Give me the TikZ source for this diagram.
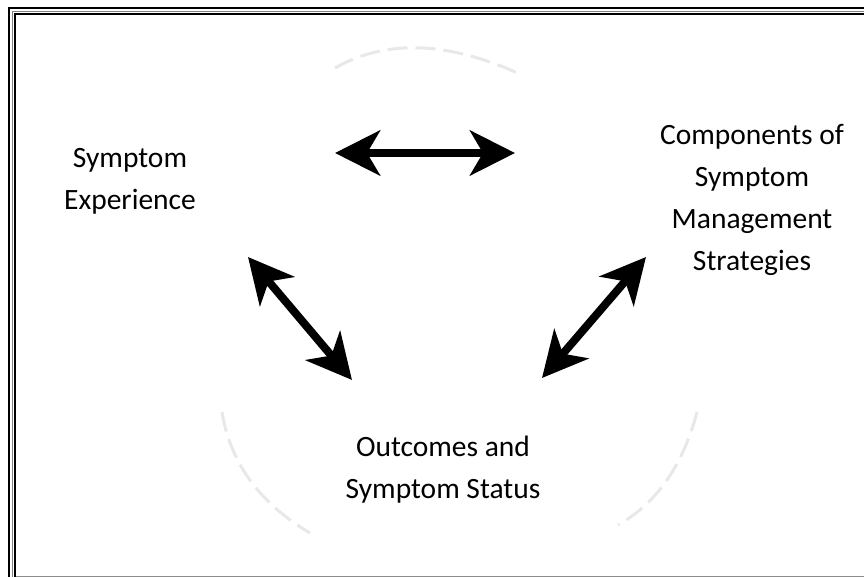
\documentclass[tikz,border=0pt]{standalone}
\usepackage{fontspec}
\setmainfont{Carlito}
\usepackage{tikz}
\usetikzlibrary{positioning, arrows.meta}

\begin{document}
\begin{tikzpicture}[
    x=1pt, y=-1pt,
    phase/.style={align=center, inner sep=0pt, font=\fontsize{29.5}{42}\selectfont},
    link/.style={line width=8pt, {Stealth[length=45pt, width=45pt, inset=13pt]}-{Stealth[length=45pt, width=45pt, inset=13pt]}},
    ring/.style={draw=black!9, line width=3pt, dash pattern=on 20pt off 8pt},
    frame/.style={line cap=rect}
]
\useasboundingbox (0,0) rectangle (864,577);

% page border
\draw[frame, line width=2pt] (9,577) -- (9,8) -- (864,8);
\draw[frame, line width=1.3pt, black!50] (12.7,577) -- (12.7,11.7) -- (864,11.7);
\draw[frame, line width=2pt] (15,577) -- (15,14.3) -- (864,14.3);
\draw[line width=1.3pt, black!45] (16,576.4) -- (864,576.4);

% faint cycle arcs
\draw[ring] (335,68) .. controls (386,39) and (448,41) .. (522,75);
\draw[ring] (222,412) .. controls (230,462) and (259,503) .. (310,533);
\draw[ring] (697,412) .. controls (683,465) and (657,503) .. (618,525);

\node[phase] (exper) at (130,181) {Symptom\\Experience};
\node[phase] (strat) at (752,200) {Components of\\Symptom\\Management\\Strategies};
\node[phase] (outc) at (443,470) {Outcomes and\\Symptom Status};

\coordinate (exper-e) at (335,153);
\coordinate (strat-w) at (515,153);
\coordinate (exper-s) at (248,257);
\coordinate (outc-nw) at (352,380);
\coordinate (strat-sw) at (646,257);
\coordinate (outc-ne) at (542,378);

\draw[link] (exper-e) -- (strat-w);
\draw[link] (exper-s) -- (outc-nw);
\draw[link] (strat-sw) -- (outc-ne);

\end{tikzpicture}
\end{document}
